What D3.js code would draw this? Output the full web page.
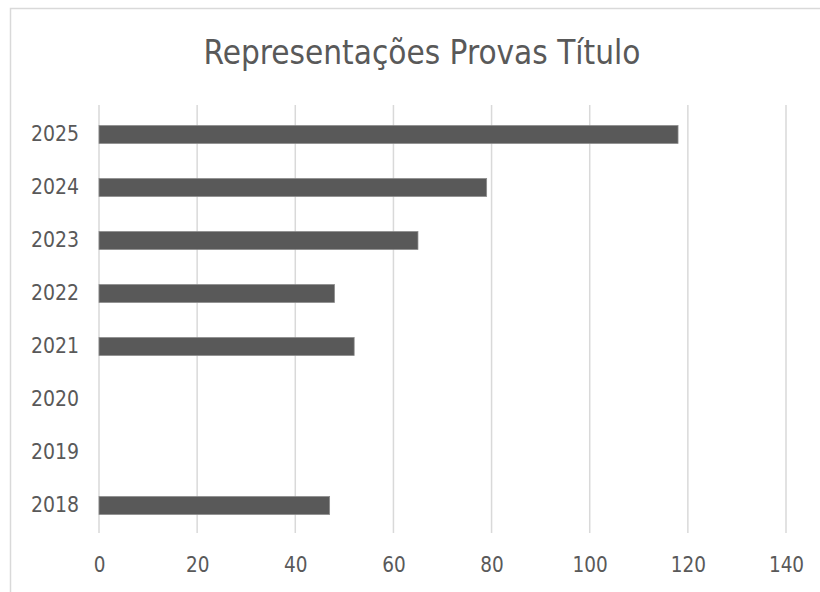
<!DOCTYPE html>
<html>
<head>
<meta charset="utf-8">
<script src="https://cdn.jsdelivr.net/npm/d3@7"></script>
<style>
  body { margin: 0; background: #fff; }
  svg { display: block; }
  .tick text { font-family: "Liberation Sans Narrow", "DejaVu Sans Condensed", sans-serif; fill: #595959; }
</style>
</head>
<body>
<svg width="820" height="592"></svg>
<script>
// chart data
var years = ["2025", "2024", "2023", "2022", "2021", "2020", "2019", "2018"];
var values = [118, 79, 65, 48, 52, null, null, 47];
var xTicks = [0, 20, 40, 60, 80, 100, 120, 140];
var title = "Representações Provas Título";

var svg = d3.select("svg"),
    width = +svg.attr("width"),
    height = +svg.attr("height");

var plotLeft = 99, plotRight = 786, plotTop = 108, plotBottom = 532;

// chart area border
svg.append("rect")
    .attr("x", 10.5).attr("y", 8.5)
    .attr("width", 820).attr("height", 600)
    .attr("fill", "none")
    .attr("stroke", "#d9d9d9")
    .attr("stroke-width", 1.5);

svg.append("text")
    .attr("x", 422).attr("y", 64)
    .attr("text-anchor", "middle")
    .attr("font-family", "'Liberation Sans Narrow', 'DejaVu Sans Condensed', sans-serif")
    .attr("font-size", 33)
    .attr("fill", "#595959")
    .text(title);

var x = d3.scaleLinear().domain([0, 140]).range([plotLeft, plotRight]);
var y = d3.scaleBand().domain(years).range([plotTop, plotBottom])
    .paddingInner(0.66).paddingOuter(0.33);

// vertical gridlines
svg.append("g")
    .selectAll("line")
    .data(xTicks)
    .enter().append("line")
    .attr("x1", function(d) { return x(d); })
    .attr("x2", function(d) { return x(d); })
    .attr("y1", 105)
    .attr("y2", 533)
    .attr("stroke", "#d9d9d9")
    .attr("stroke-width", 1.5);

var xAxis = svg.append("g")
    .attr("transform", "translate(0," + 553 + ")")
    .call(d3.axisBottom(x).tickValues(xTicks).tickSize(0).tickPadding(4));
xAxis.select(".domain").remove();
xAxis.selectAll("text").attr("font-size", 20.5);

var yAxis = svg.append("g")
    .attr("transform", "translate(" + 79 + ",0)")
    .call(d3.axisLeft(y).tickSize(0).tickPadding(0));
yAxis.select(".domain").remove();
yAxis.selectAll("text").attr("font-size", 21);

svg.append("g")
    .selectAll("rect")
    .data(years.map(function(d, i) { return {year: d, value: values[i]}; })
        .filter(function(d) { return d.value != null; }))
    .enter().append("rect")
    .attr("x", x(0))
    .attr("y", function(d) { return y(d.year); })
    .attr("width", function(d) { return x(d.value) - x(0); })
    .attr("height", y.bandwidth())
    .attr("fill", "#595959")
    .attr("stroke", "#8c8c8c")
    .attr("stroke-width", 0.75);
</script>
</body>
</html>
